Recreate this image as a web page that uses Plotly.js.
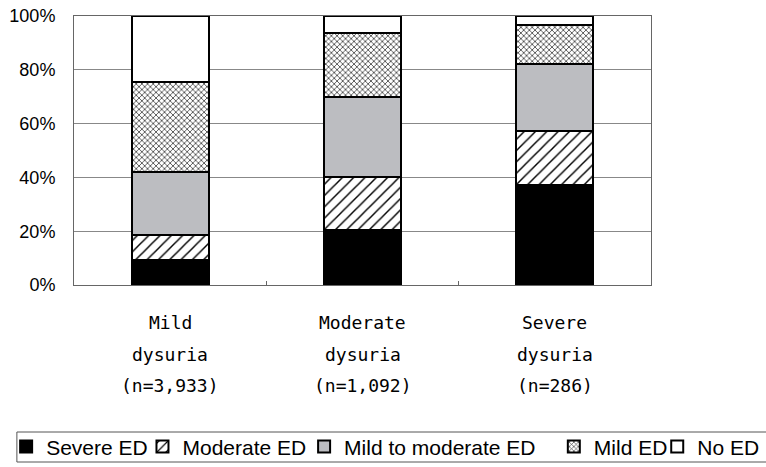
<!DOCTYPE html>
<html>
<head>
<meta charset="utf-8">
<script src="https://cdn.plot.ly/plotly-3.0.1.min.js"></script>
<style>
  html, body { margin: 0; padding: 0; background: #fff; }
  #plot { width: 766px; height: 467px; }
</style>
</head>
<body>
<div id="plot"></div>
<script>
// Categories and label lines
let categories = ['Mild dysuria', 'Moderate dysuria', 'Severe dysuria'];
let labelTop = ['Mild', 'Moderate', 'Severe'];
let labelMid = ['dysuria', 'dysuria', 'dysuria'];
let labelN = ['(n=3,933)', '(n=1,092)', '(n=286)'];

// Percent of each ED grade per group
let severeED = [9.3, 20.4, 37.2];
let moderateED = [9.3, 19.6, 20.0];
let mildModerateED = [23.5, 29.8, 24.8];
let mildED = [33.5, 24.0, 14.7];
let noED = [24.4, 6.2, 3.3];

let yTicks = [0, 20, 40, 60, 80, 100];
let yTickText = ['0%', '20%', '40%', '60%', '80%', '100%'];

let outline = {color: '#000', width: 2};

// Create traces (each one gets its own legend so the row can be spaced like the original)
let trace1 = {
    x: categories, y: severeED, type: 'bar', name: 'Severe ED', legend: 'legend',
    marker: {color: '#000', line: outline}
};
let trace2 = {
    x: categories, y: moderateED, type: 'bar', name: 'Moderate ED', legend: 'legend2',
    marker: {color: '#fff', line: outline,
        pattern: {shape: '/', fgcolor: '#000', bgcolor: '#fff', size: 8, solidity: 0.18}}
};
let trace3 = {
    x: categories, y: mildModerateED, type: 'bar', name: 'Mild to moderate ED', legend: 'legend3',
    marker: {color: '#bcbdc1', line: outline}
};
let trace4 = {
    x: categories, y: mildED, type: 'bar', name: 'Mild ED', legend: 'legend4',
    marker: {color: '#fff', line: outline,
        pattern: {shape: 'x', fgcolor: '#333', bgcolor: '#fff', size: 4, solidity: 0.35}}
};
let trace5 = {
    x: categories, y: noED, type: 'bar', name: 'No ED', legend: 'legend5',
    marker: {color: '#fff', line: outline}
};

let data = [trace1, trace2, trace3, trace4, trace5];

// Three-line category labels under the bars
let annotations = [];
let lineY = [-0.141, -0.26, -0.372];
let lines = [labelTop, labelMid, labelN];
for (let r = 0; r < lines.length; r++) {
    for (let i = 0; i < categories.length; i++) {
        annotations.push({
            x: categories[i], xref: 'x', y: lineY[r], yref: 'paper',
            text: lines[r][i], showarrow: false, yanchor: 'middle',
            font: {family: 'DejaVu Sans Mono', size: 18, color: '#000'}
        });
    }
}

// one legend box per entry, all on one row
function legendAt(x) {
    return {
        orientation: 'h', xref: 'container', yref: 'container',
        x: x, y: 0.043, xanchor: 'left', yanchor: 'middle',
        borderwidth: 0, bgcolor: 'rgba(0,0,0,0)',
        font: {family: 'Liberation Sans', size: 21, color: '#000'}
    };
}

// Define the layout
let layout = {
    width: 766,
    height: 467,
    margin: {l: 74, r: 115, t: 16, b: 182},
    paper_bgcolor: '#fff',
    plot_bgcolor: '#fff',
    barmode: 'stack',
    bargap: 0.6,
    showlegend: true,
    legend: legendAt(0.008),
    legend2: legendAt(0.186),
    legend3: legendAt(0.397),
    legend4: legendAt(0.723),
    legend5: legendAt(0.858),
    shapes: [{
        type: 'rect', xref: 'paper', yref: 'paper',
        x0: -0.099, x1: 1.23, y0: -0.658, y1: -0.5465,
        line: {color: '#555', width: 1}
    }],
    xaxis: {
        type: 'category', range: [-0.5, 2.5],
        showticklabels: false,
        showline: true, mirror: true, linecolor: '#666', linewidth: 1,
        ticks: 'inside', tickson: 'boundaries', ticklen: 4, tickcolor: '#666'
    },
    yaxis: {
        range: [0, 100], tickvals: yTicks, ticktext: yTickText,
        showgrid: true, gridcolor: '#888', gridwidth: 1,
        showline: true, mirror: true, linecolor: '#666', linewidth: 1,
        ticks: '', ticklabelstandoff: 14, zeroline: false,
        tickfont: {family: 'Liberation Sans', size: 18, color: '#000'}
    },
    annotations: annotations
};

// Create the plot
Plotly.newPlot('plot', data, layout, {displayModeBar: false});
</script>
</body>
</html>
